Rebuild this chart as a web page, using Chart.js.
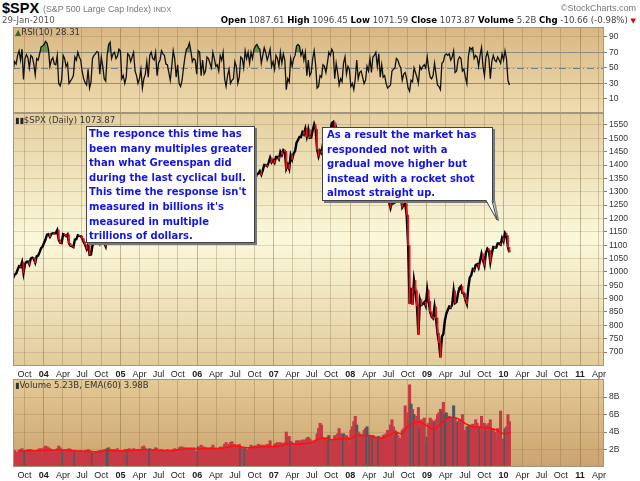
<!DOCTYPE html>
<html>
<head>
<meta charset="utf-8">
<script src="https://cdn.jsdelivr.net/npm/chart.js@4.4.1/dist/chart.umd.min.js"></script>
<style>
  body { margin: 0; width: 640px; height: 481px; background: #fff; position: relative; overflow: hidden;
         font-family: "Liberation Sans", Arial, sans-serif; }
  canvas { position: absolute; left: 0; }
  .txt { position: absolute; white-space: nowrap; }
  .lbl { position: absolute; white-space: nowrap; font: 8.6px "DejaVu Sans", Verdana, sans-serif; color: #333; z-index: 3; }
  .note { position: absolute; box-sizing: border-box; background: #fff; border: 1px solid #444;
          box-shadow: 2px 2px 0 #777; color: #1414e6; font: bold 10px "DejaVu Sans", Verdana, sans-serif;
          line-height: 14.6px; white-space: nowrap; z-index: 4; }
  .hdr b { color: #000; }
</style>
</head>
<body>
<canvas id="rsiChart" width="640" height="86" style="top:27px"></canvas>
<canvas id="priceChart" width="640" height="267" style="top:113px"></canvas>
<canvas id="volChart" width="640" height="102" style="top:379px"></canvas>

<div class="txt" style="left:2px;top:0px;font:bold 14.5px 'Liberation Sans',Arial,sans-serif;color:#000">$SPX</div>
<div class="txt" style="left:43px;top:4px;font:8.8px 'Liberation Sans',Arial,sans-serif;color:#777">(S&amp;P 500 Large Cap Index) <span style="font-size:7.5px">INDX</span></div>
<div class="txt" style="left:2px;top:15px;font:8.6px 'DejaVu Sans',Verdana,sans-serif;color:#555">29-Jan-2010</div>
<div class="txt" style="right:4px;top:3px;font:9px 'Liberation Sans',Arial,sans-serif;color:#777">&copy;StockCharts.com</div>
<div class="txt hdr" style="right:4px;top:15px;font:8.6px 'DejaVu Sans',Verdana,sans-serif;color:#444">
  <b>Open</b> 1087.61 <b>High</b> 1096.45 <b>Low</b> 1071.59 <b>Close</b> 1073.87 <b>Volume</b> 5.2B <b>Chg</b> -10.66 (-0.98%) <span style="color:#d00;font-size:7px">&#9660;</span>
</div>

<div class="lbl" style="left:15px;top:27px"><span style="color:#3a6a2a;font-size:8px">&#9650;</span>RSI(10) 28.31</div>
<div class="lbl" style="left:15px;top:115px"><span style="font-size:8px;color:#222">&#9646;&#9646;</span>$SPX (Daily) 1073.87</div>
<div class="lbl" style="left:15px;top:380px"><span style="font-size:8px;color:#333">&#9646;</span>Volume 5.23B, EMA(60) 3.98B</div>

<div class="note" style="left:86px;top:126px;width:169px;height:117px;padding:0 0 0 2px">The responce this time has<br>been many multiples greater<br>than what Greenspan did<br>during the last cyclical bull.<br>This time the response isn't<br>measured in billions it's<br>measured in multiple<br>trillions of dollars.</div>
<div class="note" style="left:322px;top:127px;width:171px;height:74px;padding:0 0 0 4px">As a result the market has<br>responded not with a<br>gradual move higher but<br>instead with a rocket shot<br>almost straight up.</div>
<svg width="640" height="481" style="position:absolute;left:0;top:0;z-index:5;pointer-events:none">
  <polyline points="488.5,201 498.5,221 494.5,201" fill="none" stroke="#888" stroke-width="1.5"/>
  <polygon points="486,199.5 497,220 492,199.5" fill="#fff" stroke="none"/>
  <polyline points="486,200.5 497,220 492,200.5" fill="none" stroke="#444" stroke-width="1"/>
</svg>

<script>
(function () {
    'use strict';

    // weekly closes of $SPX, first week ends 8-Aug-2003
    var closes = [
        977, 990, 993, 1008, 1021, 1018, 1036, 996, 1029, 1038, 1039, 1028, 1050, 1053, 1050, 1035, 1058, 1061, 1074, 1089, 1095,
        1108, 1121, 1139, 1141, 1131, 1142, 1145, 1144, 1145, 1156, 1120, 1109, 1108, 1141, 1139, 1134, 1140, 1107, 1098, 1096, 1093, 1121, 1122, 1137, 1135, 1134, 1125, 1112, 1101, 1086, 1101, 1064, 1065, 1099, 1107, 1114, 1123, 1128, 1110, 1131, 1122, 1108, 1095, 1130, 1167, 1184, 1170, 1182, 1191, 1189, 1194, 1210, 1212,
        1186, 1184, 1168, 1171, 1203, 1206, 1201, 1211, 1222, 1201, 1190, 1172, 1172, 1181, 1142, 1152, 1157, 1178, 1154, 1190, 1198, 1197, 1201, 1217, 1191, 1212, 1212, 1228, 1229, 1234, 1227, 1230, 1220, 1206, 1218, 1241, 1237, 1215, 1229, 1196, 1187, 1180, 1199, 1220, 1235, 1248, 1268, 1265, 1259, 1267, 1268, 1248,
        1285, 1288, 1261, 1283, 1264, 1267, 1287, 1289, 1287, 1281, 1307, 1302, 1295, 1295, 1289, 1311, 1310, 1325, 1291, 1267, 1280, 1288, 1253, 1252, 1245, 1270, 1265, 1236, 1240, 1279, 1280, 1267, 1302, 1295, 1311, 1299, 1319, 1314, 1336, 1349, 1366, 1368, 1377, 1364, 1380, 1401, 1400, 1396, 1409, 1427, 1410, 1418,
        1409, 1430, 1430, 1422, 1449, 1438, 1456, 1451, 1387, 1402, 1386, 1437, 1421, 1443, 1452, 1484, 1494, 1505, 1505, 1523, 1515, 1536, 1507, 1533, 1502, 1503, 1530, 1552, 1534, 1459, 1433, 1453, 1445, 1479, 1474, 1453, 1484, 1525, 1527, 1557, 1561, 1500, 1535, 1509, 1453, 1458, 1440, 1481, 1504, 1467, 1484, 1478,
        1411, 1401, 1325, 1330, 1395, 1331, 1349, 1353, 1331, 1294, 1288, 1330, 1316, 1370, 1333, 1390, 1398, 1414, 1389, 1426, 1375, 1400, 1361, 1360, 1318, 1278, 1262, 1239, 1261, 1257, 1260, 1296, 1298, 1292, 1283, 1242, 1252, 1255, 1213, 1099, 880, 940, 877, 968, 930, 873, 765, 896, 876, 880, 887, 873,
        932, 890, 850, 832, 826, 869, 827, 770, 735, 680, 757, 768, 816, 843, 857, 870, 866, 877, 929, 883, 887, 919, 940, 946, 921, 919, 896, 880, 940, 979, 987, 1010, 1005, 1026, 1029, 1016, 1042, 1068, 1045, 1025, 1071, 1087, 1080, 1036, 1069, 1093, 1091, 1091, 1106, 1106, 1102, 1127,
        1115, 1145, 1136, 1092, 1074
    ];

    var rsi = [
        48, 58, 55, 66, 72, 60, 74, 35, 62, 67, 63, 50, 66, 64, 55, 41, 62, 60, 68, 77, 78,
        80, 84, 82, 74, 52, 60, 63, 55, 54, 66, 30, 27, 35, 66, 62, 52, 56, 30, 33, 36, 40, 64, 60, 70, 64, 60, 45, 36, 31, 28, 48, 24, 32, 62, 66, 68, 71, 70, 42, 64, 52, 36, 33, 66, 80, 83, 62, 68, 70, 62, 65, 74, 72,
        36, 40, 30, 38, 68, 66, 58, 64, 70, 46, 40, 30, 36, 48, 24, 36, 42, 58, 38, 66, 70, 62, 60, 70, 40, 56, 60, 72, 68, 66, 55, 54, 44, 34, 52, 72, 62, 38, 54, 30, 26, 34, 50, 64, 74, 76, 82, 72, 58, 62, 60, 42,
        72, 70, 40, 60, 42, 46, 64, 62, 56, 50, 70, 62, 52, 54, 46, 66, 60, 70, 36, 26, 40, 48, 30, 34, 36, 58, 52, 30, 38, 64, 62, 50, 72, 62, 70, 56, 70, 62, 74, 78, 80, 76, 74, 56, 66, 76, 70, 60, 66, 74, 52, 58,
        48, 66, 62, 52, 70, 56, 68, 60, 22, 36, 32, 62, 52, 62, 66, 78, 80, 78, 66, 72, 60, 70, 40, 60, 40, 44, 62, 72, 54, 24, 26, 40, 38, 54, 52, 44, 56, 70, 66, 74, 70, 36, 56, 44, 28, 36, 32, 56, 64, 42, 52, 48,
        26, 30, 22, 36, 60, 36, 44, 46, 38, 30, 34, 52, 46, 62, 44, 64, 66, 70, 52, 68, 38, 54, 38, 40, 30, 24, 26, 28, 46, 48, 50, 62, 60, 54, 50, 34, 42, 44, 36, 24, 20, 34, 32, 50, 44, 38, 30, 52, 48, 52, 54, 50,
        64, 48, 38, 36, 40, 56, 42, 28, 26, 22, 56, 58, 66, 68, 66, 68, 60, 64, 72, 44, 46, 60, 64, 62, 46, 48, 38, 30, 64, 76, 74, 76, 62, 66, 64, 52, 66, 76, 52, 40, 64, 70, 62, 36, 58, 66, 60, 58, 64, 60, 56, 68,
        60, 72, 62, 34, 28
    ];

    // weekly volume, billions of shares
    var volume = [
        1.8, 1.9, 1.7, 1.6, 1.9, 2.0, 2.1, 1.9, 1.9, 1.8, 2.0, 2.0, 2.0, 1.9, 1.9, 1.8, 1.6, 2.0, 2.1, 2.1, 1.4,
        2.2, 2.4, 2.3, 2.2, 2.1, 2.0, 1.9, 1.8, 1.9, 2.1, 2.4, 2.2, 2.0, 1.9, 1.8, 2.0, 1.9, 2.1, 2.0, 1.9, 1.8, 1.8, 1.8, 1.7, 1.8, 1.9, 1.7, 1.8, 1.9, 1.8, 2.0, 1.9, 1.7, 1.6, 1.5, 1.7, 1.8, 1.8, 1.9, 1.9, 1.8, 2.0, 2.0, 2.1, 2.2, 2.0, 2.0, 1.7, 2.0, 1.9, 2.1, 1.8, 1.6,
        1.9, 1.9, 2.0, 2.0, 2.0, 2.1, 1.9, 2.0, 2.1, 1.9, 2.0, 2.0, 1.9, 2.0, 2.3, 2.4, 2.1, 2.0, 1.9, 2.1, 1.8, 2.0, 1.8, 2.2, 2.1, 1.8, 1.9, 2.0, 1.9, 1.8, 1.9, 2.0, 1.8, 1.7, 1.9, 2.0, 2.1, 2.0, 2.0, 2.2, 2.3, 2.3, 2.2, 2.2, 2.1, 2.2, 1.9, 2.2, 2.0, 2.2, 1.8, 1.6,
        2.3, 2.2, 2.5, 2.3, 2.3, 2.2, 2.2, 2.1, 2.2, 2.2, 2.5, 2.1, 2.2, 2.1, 2.0, 2.3, 2.2, 2.3, 2.6, 2.8, 2.3, 2.6, 2.8, 2.9, 2.5, 2.6, 2.2, 2.5, 2.6, 2.3, 2.2, 2.1, 2.1, 1.9, 2.0, 2.2, 2.5, 2.3, 2.4, 2.4, 2.4, 2.6, 2.5, 2.5, 2.4, 2.5, 2.0, 2.6, 2.6, 3.0, 2.3, 2.0,
        2.6, 2.7, 2.8, 2.6, 2.8, 2.7, 2.6, 2.8, 4.0, 3.4, 3.5, 2.9, 2.8, 2.7, 2.7, 3.0, 3.0, 3.0, 2.9, 3.1, 2.8, 3.1, 3.3, 3.4, 3.2, 3.0, 2.5, 3.0, 3.1, 3.8, 4.4, 5.0, 4.8, 3.4, 3.2, 3.2, 3.4, 3.6, 2.9, 3.1, 3.0, 3.6, 3.3, 3.8, 4.4, 3.8, 3.2, 3.8, 3.5, 3.6, 3.4, 2.6,
        4.2, 4.6, 5.2, 5.8, 4.8, 4.0, 3.8, 3.6, 3.7, 4.2, 4.4, 4.6, 3.6, 3.6, 3.4, 3.6, 3.3, 3.3, 3.4, 3.5, 3.3, 3.1, 3.6, 3.7, 3.8, 4.2, 4.0, 4.8, 5.4, 4.6, 4.2, 4.0, 3.6, 3.3, 3.2, 4.2, 4.4, 7.0, 5.4, 6.2, 9.4, 7.2, 6.6, 6.0, 5.4, 5.8, 6.8, 4.4, 5.4, 5.0, 5.6, 2.8,
        3.4, 5.0, 5.6, 5.4, 5.0, 5.2, 5.4, 6.0, 6.2, 6.6, 6.4, 7.4, 6.0, 6.2, 5.2, 5.8, 5.6, 5.4, 7.0, 5.6, 5.0, 5.2, 5.4, 5.0, 6.0, 4.2, 4.0, 4.6, 4.6, 4.8, 4.6, 4.9, 4.8, 5.4, 5.0, 4.4, 4.6, 5.8, 4.8, 5.0, 4.2, 4.8, 5.0, 5.4, 4.4, 4.2, 4.0, 3.0, 4.4, 4.0, 6.4, 2.6,
        3.2, 4.4, 4.6, 6.0, 5.2
    ];

    // EMA(60) of volume, first day of each month from Sep 2003
    var volEma = [
        1.8, 1.82, 1.85, 1.85,
        1.88, 1.92, 1.95, 1.95, 1.9, 1.85, 1.8, 1.78, 1.75, 1.78, 1.85, 1.88,
        1.85, 1.88, 1.9, 1.95, 2.0, 1.95, 1.92, 1.88, 1.88, 1.95, 2.05, 2.08,
        2.05, 2.1, 2.12, 2.1, 2.15, 2.3, 2.4, 2.3, 2.2, 2.25, 2.3, 2.32,
        2.35, 2.4, 2.6, 2.65, 2.6, 2.7, 2.75, 3.2, 3.3, 3.15, 3.15, 3.25,
        3.2, 3.6, 3.6, 3.6, 3.4, 3.3, 3.6, 4.0, 3.8, 4.6, 5.1, 5.1,
        4.7, 4.3, 4.8, 5.5, 5.7, 5.5, 5.0, 4.6, 4.6, 4.5, 4.4, 4.2,
        3.8, 3.98
    ];

    var rsiTicks = [10, 30, 50, 70, 90];
    var priceTicks = [700, 750, 800, 850, 900, 950, 1000, 1050, 1100, 1150, 1200, 1250, 1300, 1350, 1400, 1450, 1500, 1550];
    var volTicks = [2, 4, 6, 8];
    var monthNames = ['Jan', 'Feb', 'Mar', 'Apr', 'May', 'Jun', 'Jul', 'Aug', 'Sep', 'Oct', 'Nov', 'Dec'];

    var DAY = 864e5;
    var firstWeek = Date.UTC(2003, 7, 8);
    var xMin = Date.UTC(2003, 7, 7);
    var xMax = Date.UTC(2011, 3, 25);
    var FONT = '"Liberation Sans", Arial, sans-serif';

    var quarterTicks = [];
    for (var q = 0; q < 31; q++) quarterTicks.push(Date.UTC(2003, 9 + q * 3, 1));

    function weekX(i) { return firstWeek + i * 7 * DAY; }

    Chart.defaults.font.family = FONT;
    Chart.defaults.color = '#333';

    var panelBg = {
        id: 'panelBg',
        beforeDraw: function (chart, args, opts) {
            var a = chart.chartArea, ctx = chart.ctx;
            var g = ctx.createLinearGradient(0, a.top, 0, a.bottom);
            opts.stops.forEach(function (s) { g.addColorStop(s[0], s[1]); });
            ctx.save();
            ctx.fillStyle = g;
            ctx.fillRect(a.left, a.top, a.right - a.left, a.bottom - a.top);
            ctx.restore();
        },
        afterDraw: function (chart) {
            var a = chart.chartArea, ctx = chart.ctx;
            ctx.save();
            ctx.strokeStyle = '#a39580';
            ctx.lineWidth = 1;
            ctx.strokeRect(a.left + 0.5, a.top + 0.5, a.right - a.left - 1, a.bottom - a.top - 1);
            ctx.restore();
        }
    };

    var levels = {
        id: 'levels',
        beforeDatasetsDraw: function (chart, args, opts) {
            if (!opts.lines) return;
            var y = chart.scales.y, a = chart.chartArea, ctx = chart.ctx;
            opts.lines.forEach(function (l) {
                var py = Math.round(y.getPixelForValue(l.value)) + 0.5;
                ctx.save();
                ctx.strokeStyle = l.color;
                ctx.lineWidth = 1;
                ctx.setLineDash(l.dash || []);
                ctx.beginPath();
                ctx.moveTo(a.left, py);
                ctx.lineTo(a.right, py);
                ctx.stroke();
                ctx.restore();
            });
        }
    };

    function xAxis(showLabels) {
        return {
            type: 'linear',
            min: xMin,
            max: xMax,
            offset: false,
            afterBuildTicks: function (s) { s.ticks = quarterTicks.map(function (v) { return { value: v }; }); },
            afterFit: function (s) { s.height = showLabels ? 14 : 0; s.paddingLeft = 0; s.paddingRight = 0; },
            border: { display: false },
            grid: {
                offset: false,
                drawTicks: false,
                color: function (c) {
                    return c.tick && new Date(c.tick.value).getUTCMonth() === 0 ? 'rgba(120,92,50,0.42)' : 'rgba(130,104,62,0.3)';
                }
            },
            ticks: {
                display: showLabels,
                autoSkip: false,
                maxRotation: 0,
                padding: 3,
                color: '#222',
                font: function (c) {
                    var yr = c.tick && new Date(c.tick.value).getUTCMonth() === 0;
                    return { family: FONT, size: 9, weight: yr ? 'bold' : 'normal' };
                },
                callback: function (v) {
                    var d = new Date(v);
                    return d.getUTCMonth() === 0 ? String(d.getUTCFullYear()).slice(2) : monthNames[d.getUTCMonth()];
                }
            }
        };
    }

    function yAxis(min, max, ticks, fmt) {
        return {
            position: 'right',
            min: min,
            max: max,
            afterBuildTicks: function (s) { s.ticks = ticks.map(function (v) { return { value: v }; }); },
            afterFit: function (s) { s.width = 36; s.paddingTop = 0; s.paddingBottom = 0; },
            border: { display: false },
            grid: { color: 'rgba(130,104,62,0.22)', tickColor: '#8c7c64', tickLength: 3 },
            ticks: { padding: 2, color: '#333', font: { family: FONT, size: 8.5 }, callback: fmt || function (v) { return v; } }
        };
    }

    function baseOptions(extra) {
        var o = {
            responsive: false,
            animation: false,
            events: [],
            layout: { padding: { left: 13, right: 0, top: 0, bottom: 0 } },
            plugins: { legend: { display: false }, tooltip: { enabled: false } }
        };
        Object.keys(extra).forEach(function (k) { o[k] = extra[k]; });
        return o;
    }

    // RSI panel
    var rsiOpts = baseOptions({ scales: { x: xAxis(false), y: yAxis(-8, 102.5, rsiTicks) } });
    rsiOpts.plugins.panelBg = { stops: [[0, '#d9b783'], [1, '#efdcb0']] };
    rsiOpts.plugins.levels = { lines: [
        { value: 70, color: '#8f8a82' },
        { value: 30, color: '#8f8a82' },
        { value: 50, color: '#6f7f92', dash: [7, 3, 1, 3] }
    ] };
    new Chart(document.getElementById('rsiChart'), {
        type: 'line',
        data: {
            datasets: [{
                data: rsi.map(function (v, i) { return { x: weekX(i), y: v }; }),
                borderColor: '#111',
                borderWidth: 1.3,
                pointRadius: 0,
                tension: 0,
                fill: { target: { value: 70 }, above: 'rgba(50,130,50,0.7)', below: 'rgba(0,0,0,0)' }
            }]
        },
        options: rsiOpts,
        plugins: [panelBg, levels]
    });

    // price panel
    var downBars = [];
    closes.forEach(function (c, i) {
        if (i > 0 && c < closes[i - 1]) downBars.push({ x: weekX(i), y: [c, closes[i - 1]] });
    });
    var priceOpts = baseOptions({ scales: { x: xAxis(true), y: yAxis(647.6, 1594.9, priceTicks) } });
    priceOpts.plugins.panelBg = { stops: [[0, '#e4cfa0'], [0.5, '#fbf8da'], [1, '#e2cb9b']] };
    new Chart(document.getElementById('priceChart'), {
        type: 'bar',
        data: {
            datasets: [{
                type: 'line',
                data: closes.map(function (v, i) { return { x: weekX(i), y: v }; }),
                borderColor: '#000',
                borderWidth: 2.4,
                pointRadius: 0,
                tension: 0,
                order: 2
            }, {
                data: downBars,
                backgroundColor: '#e3141c',
                barThickness: 1.2,
                grouped: false,
                order: 1
            }]
        },
        options: priceOpts,
        plugins: [panelBg]
    });

    // volume panel
    var volColors = volume.map(function (v, i) {
        return i > 0 && closes[i] > closes[i - 1] * 1.025 ? '#4f585d' : '#c63a46';
    });
    var volOpts = baseOptions({ scales: { x: xAxis(true), y: yAxis(0, 10.06, volTicks, function (v) { return v + 'B'; }) } });
    volOpts.plugins.panelBg = { stops: [[0, '#e3c996'], [1, '#cba36e']] };
    new Chart(document.getElementById('volChart'), {
        type: 'bar',
        data: {
            datasets: [{
                type: 'line',
                data: volEma.map(function (v, k) { return { x: Date.UTC(2003, 8 + k, 1), y: v }; }),
                borderColor: '#ff1010',
                borderWidth: 1.5,
                pointRadius: 0,
                tension: 0.3,
                order: 0
            }, {
                data: volume.map(function (v, i) { return { x: weekX(i), y: v }; }),
                backgroundColor: volColors,
                barThickness: 2.4,
                grouped: false,
                order: 1
            }]
        },
        options: volOpts,
        plugins: [panelBg]
    });
})();
</script>
</body>
</html>
